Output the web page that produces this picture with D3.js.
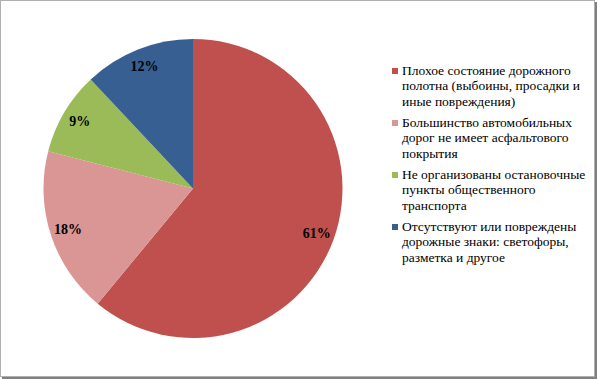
<!DOCTYPE html>
<html><head><meta charset="utf-8">
<script src="https://cdn.jsdelivr.net/npm/d3@7"></script>
<style>body{margin:0;background:#fff;}svg{display:block;}</style>
</head><body>
<script>
const categories = [
  ["Плохое состояние дорожного", "полотна (выбоины, просадки и", "иные повреждения)"],
  ["Большинство автомобильных", "дорог не имеет асфальтового", "покрытия"],
  ["Не организованы остановочные", "пункты общественного", "транспорта"],
  ["Отсутствуют или повреждены", "дорожные знаки: светофоры,", "разметка и другое"]
];
const values = [61, 18, 9, 12];
const labels = ["61%", "18%", "9%", "12%"];
const colors = ["#C0504D", "#D99694", "#9BBB59", "#375F91"];

const W = 597, H = 379;
const FONT = "Liberation Serif";
const svg = d3.select("body").append("svg").attr("width", W).attr("height", H);

// frame
svg.append("rect").attr("x", 0.5).attr("y", 0.5).attr("width", 594).attr("height", 376)
  .attr("fill", "#fff").attr("stroke", "#b0b0b0");
svg.append("rect").attr("x", 595).attr("y", 2).attr("width", 2).attr("height", 377).attr("fill", "#808080");
svg.append("rect").attr("x", 2).attr("y", 377).attr("width", 595).attr("height", 2).attr("fill", "#808080");

const cx = 193, cy = 188.5, r = 149.5;
const pie = d3.pie().sort(null).value(d => d);
const arcs = pie(values);
const arc = d3.arc().innerRadius(0).outerRadius(r);
const g = svg.append("g").attr("transform", `translate(${cx},${cy})`);
g.selectAll("path").data(arcs).enter().append("path")
  .attr("d", arc).attr("fill", (d, i) => colors[i]);

const labelArc = d3.arc().innerRadius(r * 0.88).outerRadius(r * 0.88);
g.selectAll("text").data(arcs).enter().append("text")
  .attr("transform", d => {
    const c = labelArc.centroid(d);
    return `translate(${c[0]},${c[1]})`;
  })
  .attr("text-anchor", "middle").attr("dy", "0.35em")
  .style("font-family", FONT)
  .attr("font-weight", "bold").attr("font-size", 14).attr("fill", "#000")
  .text((d, i) => labels[i]);

// legend
const lg = svg.append("g");
categories.forEach((lines, i) => {
  const y0 = 75 + i * 52;
  lg.append("rect").attr("x", 392).attr("y", y0 - 7).attr("width", 6).attr("height", 6).attr("fill", colors[i]);
  lines.forEach((t, j) => {
    lg.append("text").attr("x", 402).attr("y", y0 + j * 15.3)
      .style("font-family", FONT)
      .attr("font-size", 13.5).attr("fill", "#000").text(t);
  });
});
</script>
</body></html>
